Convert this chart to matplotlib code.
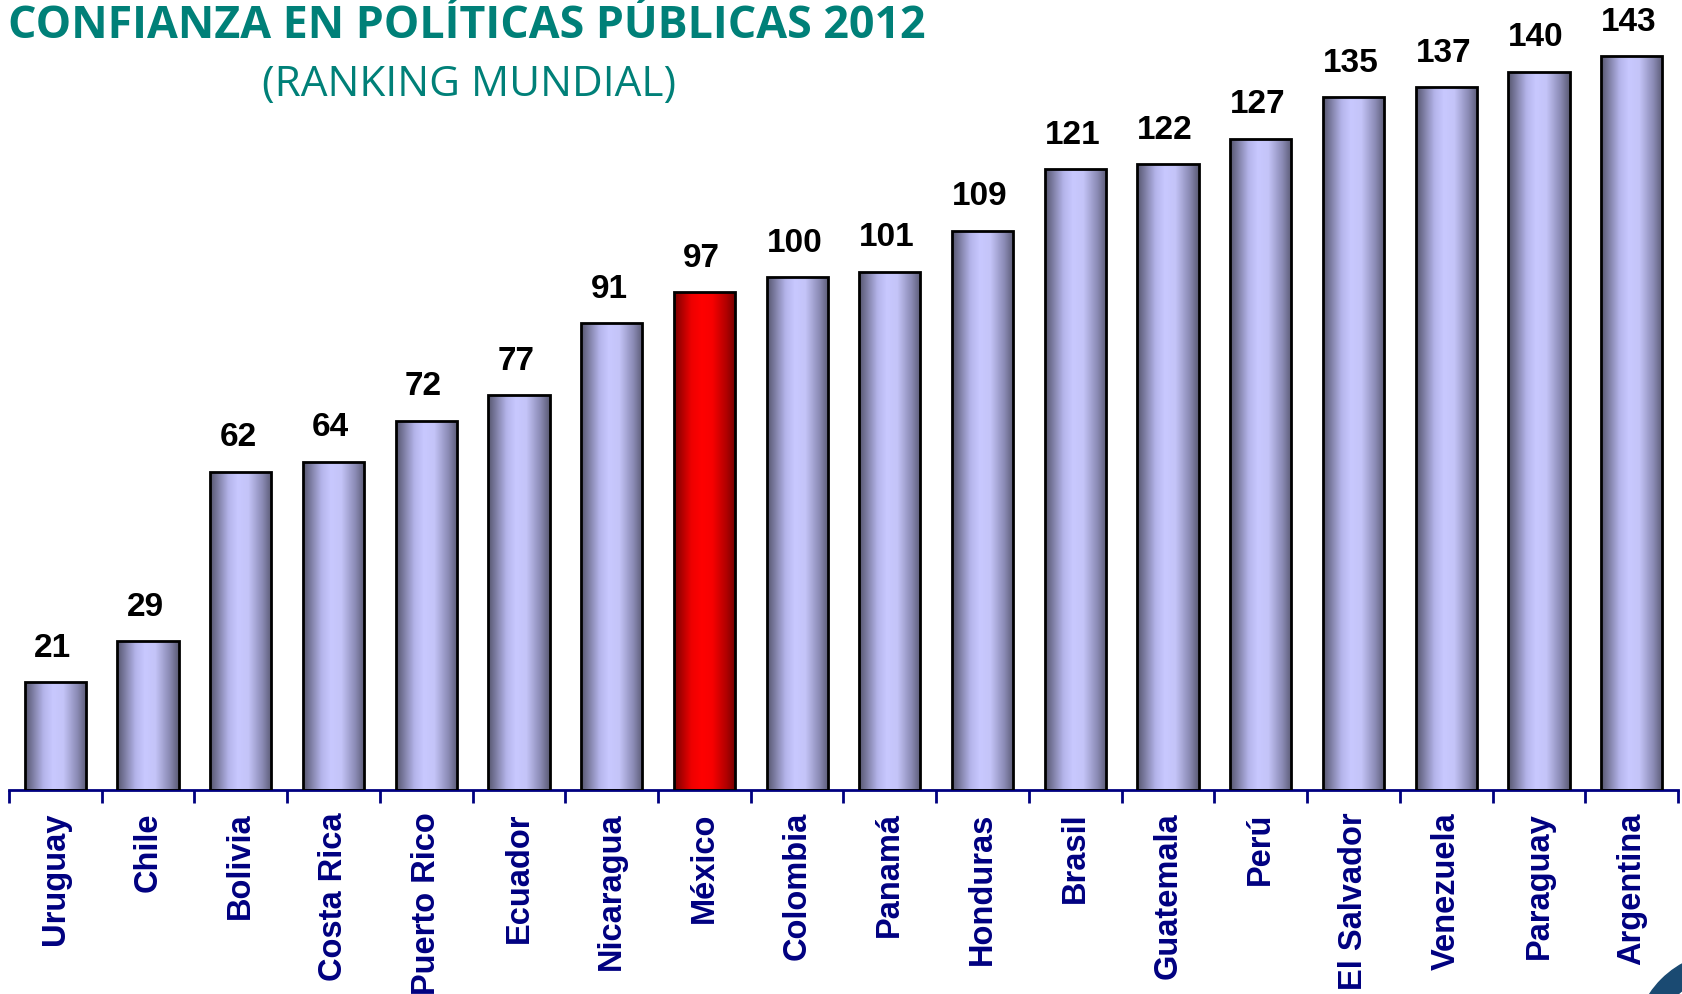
import numpy as np
import matplotlib.pyplot as plt
from matplotlib.colors import LinearSegmentedColormap
from matplotlib.patches import Wedge

# Ranking mundial (lugar) por país
paises = ['Uruguay', 'Chile', 'Bolivia', 'Costa Rica', 'Puerto Rico', 'Ecuador',
          'Nicaragua', 'México', 'Colombia', 'Panamá', 'Honduras', 'Brasil',
          'Guatemala', 'Perú', 'El Salvador', 'Venezuela', 'Paraguay', 'Argentina']
ranking = [21, 29, 62, 64, 72, 77, 91, 97, 100, 101, 109, 121, 122, 127, 135, 137, 140, 143]
destacado = 'México'

navy = '#000080'
teal = '#008078'

# gradientes horizontales tipo cilindro
azul = LinearSegmentedColormap.from_list('azul', [
    (0.0, '#55556e'), (0.3, '#b4b4ea'), (0.45, '#c8c8ff'),
    (0.62, '#c4c4f8'), (0.85, '#8a8ab4'), (1.0, '#5a5a74')])
rojo = LinearSegmentedColormap.from_list('rojo', [
    (0.0, '#7a0000'), (0.28, '#ee0000'), (0.45, '#ff0000'),
    (0.62, '#f80000'), (0.85, '#b00000'), (1.0, '#700000')])

fig = plt.figure(figsize=(16.83, 9.94), dpi=100)
ax = fig.add_axes([9 / 1683, 204 / 994, 1669 / 1683, 790 / 994])

x = np.arange(len(paises))
bars = ax.bar(x, ranking, width=0.66, facecolor='none', edgecolor='black',
              linewidth=2, zorder=3)

grad = np.linspace(0, 1, 256).reshape(1, -1)
for b, p in zip(bars, paises):
    cmap = rojo if p == destacado else azul
    x0 = b.get_x()
    im = ax.imshow(grad, cmap=cmap, extent=[x0, x0 + b.get_width(), 0, b.get_height()],
                   aspect='auto', zorder=2, interpolation='bilinear')
    im.set_clip_path(b)

for xi, v in zip(x, ranking):
    ax.text(xi - 0.03, v + 3.6, str(v), ha='center', va='bottom', fontsize=24,
            fontweight='bold', family='Liberation Sans', color='black')

ax.set_xlim(-0.5, len(paises) - 0.5)
ax.set_ylim(0, 154)
ax.set_xticks(x)
ax.set_xticklabels(paises, rotation=90, fontsize=23.5, fontweight='bold',
                   family='Liberation Sans', color=navy, va='top')
ax.tick_params(axis='x', length=0, pad=16)
ax.set_xticks(np.arange(-0.5, len(paises)), minor=True)
ax.tick_params(axis='x', which='minor', length=9, width=2, color=navy, direction='out')
ax.set_yticks([])
for s in ['top', 'right', 'left']:
    ax.spines[s].set_visible(False)
ax.spines['bottom'].set_color(navy)
ax.spines['bottom'].set_linewidth(2)

fig.text(8 / 1683, 1 - 27 / 994, 'CONFIANZA EN POLÍTICAS PÚBLICAS 2012', fontsize=32.2,
         fontweight='bold', family='Open Sans', color=teal, ha='left', va='center')
fig.text(469 / 1683, 1 - 85 / 994, '(RANKING MUNDIAL)', fontsize=30.5,
         family='Open Sans', color=teal, ha='center', va='center')

# fragmento del logo en la esquina inferior derecha
fig.patches.append(Wedge((1728, -52), 94, 0, 360, width=22, color='#1a4a72',
                         transform=None, figure=fig))
fig.patches.append(Wedge((1728, -52), 62, 0, 360, width=14, color='#1a4a72',
                         transform=None, figure=fig))

fig.savefig('out.png', dpi=100)
